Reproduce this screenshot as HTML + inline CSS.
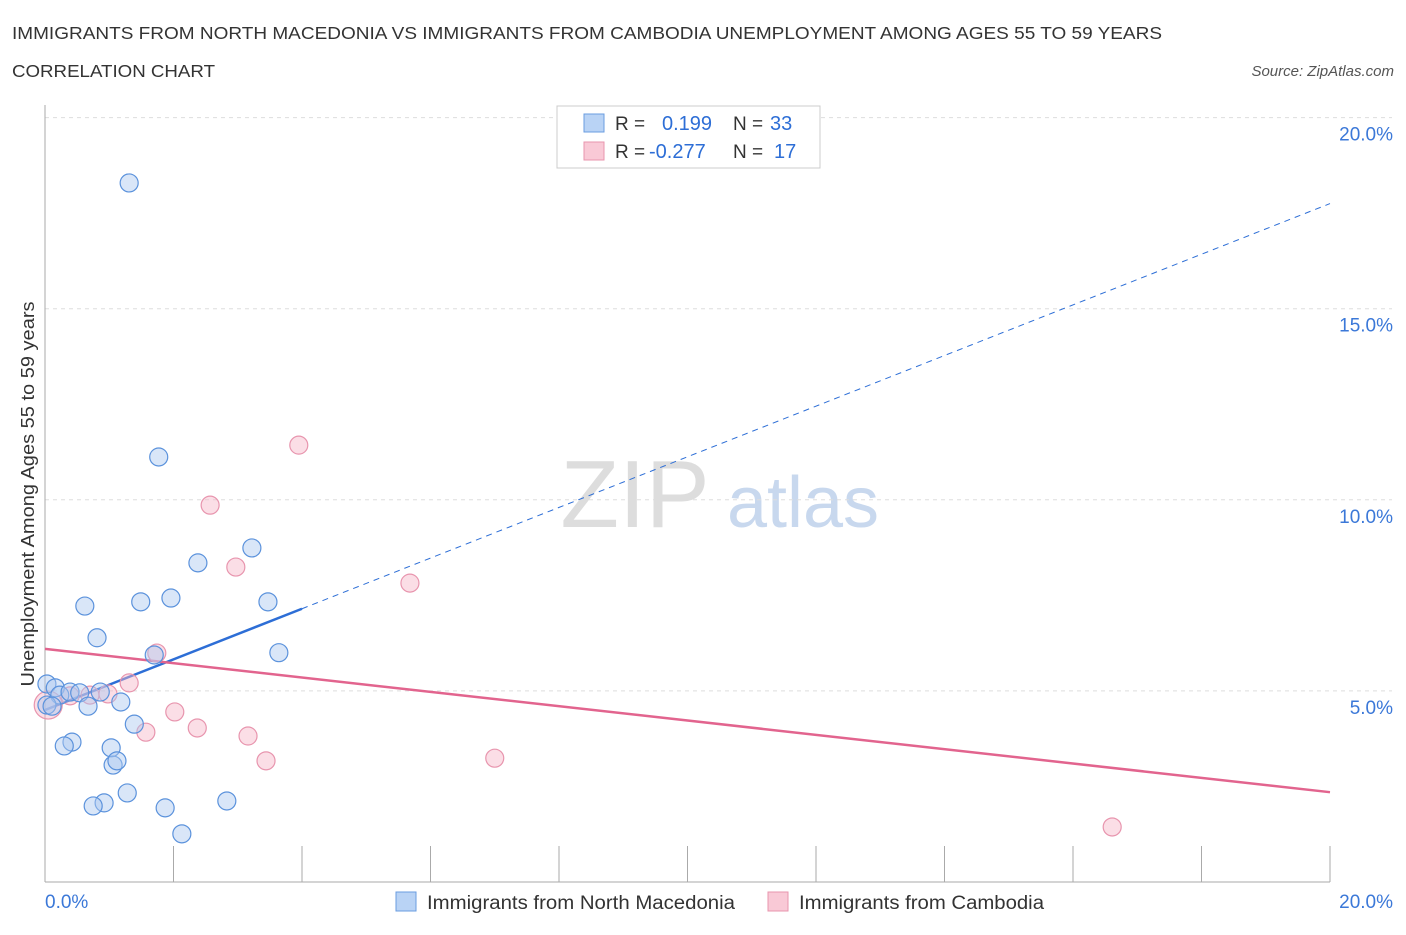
<!DOCTYPE html>
<html><head><meta charset="utf-8"><style>
body{margin:0;background:#fff;font-family:"Liberation Sans",sans-serif;}
svg text{font-family:"Liberation Sans",sans-serif;}
</style></head><body>
<svg id="chart" width="1406" height="930" xmlns="http://www.w3.org/2000/svg">
<text x="12" y="39" font-size="17.5" fill="#333" textLength="1150" lengthAdjust="spacingAndGlyphs">IMMIGRANTS FROM NORTH MACEDONIA VS IMMIGRANTS FROM CAMBODIA UNEMPLOYMENT AMONG AGES 55 TO 59 YEARS</text>
<text x="12" y="77" font-size="17.5" fill="#333" textLength="203" lengthAdjust="spacingAndGlyphs">CORRELATION CHART</text>
<text x="1394" y="76" font-size="15" fill="#555" font-style="italic" text-anchor="end">Source: ZipAtlas.com</text>
<text x="635" y="527" font-size="96" fill="#ddd" font-family="Liberation Serif" text-anchor="middle">ZIP</text>
<text x="803" y="527" font-size="72" fill="#c8d8ee" text-anchor="middle">atlas</text>
<g id="grid"></g><g id="axes"></g><g id="trends"></g><g id="pts"></g>
<text transform="translate(34,494) rotate(-90)" font-size="18" fill="#333" text-anchor="middle" textLength="385" lengthAdjust="spacingAndGlyphs">Unemployment Among Ages 55 to 59 years</text>
<g>
<rect x="557" y="106" width="263" height="62" fill="#fff" stroke="#ccc"/>
<rect x="584" y="114" width="20" height="18" fill="#b9d3f5" stroke="#6a9de0"/>
<rect x="584" y="142" width="20" height="18" fill="#f9c9d6" stroke="#e895ae"/>
<text x="615" y="130" font-size="19" fill="#333">R = </text><text x="662" y="130" font-size="20" fill="#2d6ed6">0.199</text>
<text x="733" y="130" font-size="19" fill="#333">N = </text><text x="770" y="130" font-size="20" fill="#2d6ed6">33</text>
<text x="615" y="158" font-size="19" fill="#333">R = </text><text x="649" y="158" font-size="20" fill="#2d6ed6">-0.277</text>
<text x="733" y="158" font-size="19" fill="#333">N = </text><text x="774" y="158" font-size="20" fill="#2d6ed6">17</text>
</g>
<g>
<rect x="396" y="892" width="20" height="19" fill="#b9d3f5" stroke="#6a9de0"/>
<text x="427" y="909" font-size="19" fill="#333" textLength="308" lengthAdjust="spacingAndGlyphs">Immigrants from North Macedonia</text>
<rect x="768" y="892" width="20" height="19" fill="#f9c9d6" stroke="#e895ae"/>
<text x="799" y="909" font-size="19" fill="#333" textLength="245" lengthAdjust="spacingAndGlyphs">Immigrants from Cambodia</text>
</g>
</svg>
<script>
const blueX=[1.31,1.77,3.22,2.38,0.62,1.49,1.96,3.47,0.81,3.64,1.70,0.03,0.16,0.23,0.39,0.54,0.86,0.03,0.67,1.18,1.39,1.03,0.42,0.30,1.06,1.12,1.28,0.92,0.75,1.87,2.83,2.13,0.11];
const blueY=[18.29,11.12,8.74,8.35,7.22,7.33,7.43,7.33,6.39,6.00,5.94,5.18,5.08,4.89,4.97,4.95,4.97,4.63,4.60,4.71,4.13,3.51,3.66,3.56,3.06,3.17,2.33,2.07,1.99,1.94,2.12,1.26,4.60];
const pinkX=[3.95,2.57,2.97,5.68,1.74,1.31,0.98,0.70,0.39,0.05,2.02,2.37,1.57,3.16,3.44,7.00,16.61];
const pinkY=[11.43,9.86,8.24,7.82,5.99,5.21,4.92,4.89,4.87,4.63,4.45,4.03,3.92,3.82,3.17,3.24,1.44];
const yTicks=[5,10,15,20];
const yTickLabels=["5.0%","10.0%","15.0%","20.0%"];
const blueTrend=[4.5,17.75];
const pinkTrend=[6.1,2.35];
const blueSolidEnd=4.0;
const NS="http://www.w3.org/2000/svg";
const X=v=>45+v*64.25, Y=v=>882-v*38.22;
function mk(p,t,a){const e=document.createElementNS(NS,t);for(const k in a)e.setAttribute(k,a[k]);document.getElementById(p).appendChild(e);return e;}
yTicks.forEach((t,i)=>{
 const g=mk('grid','line',{x1:45,x2:1392,y1:Y(t),y2:Y(t),stroke:'#ddd','stroke-dasharray':'4,4'});
 
 
 const tx=mk('grid','text',{x:1393,y:Y(t)+23,'font-size':19,fill:'#3b78d8','text-anchor':'end'});
 tx.textContent=yTickLabels[i];
 
 
});
const ax=mk('axes','line',{x1:45,x2:45,y1:105,y2:882,stroke:'#aaa'});


const bx=mk('axes','line',{x1:45,x2:1330,y1:882,y2:882,stroke:'#aaa'});


for(let i=1;i<=10;i++){const t=mk('axes','line',{x1:X(i*2),x2:X(i*2),y1:846,y2:882,stroke:'#aaa'});
 
 }
const l0=mk('axes','text',{x:45,y:908,'font-size':19,fill:'#3b78d8'});l0.textContent='0.0%';


const l1=mk('axes','text',{x:1393,y:908,'font-size':19,fill:'#3b78d8','text-anchor':'end'});l1.textContent='20.0%';


const bAt=x=>blueTrend[0]+(blueTrend[1]-blueTrend[0])*x/20;
const bt1=mk('trends','line',{x1:X(0),y1:Y(bAt(0)),x2:X(blueSolidEnd),y2:Y(bAt(blueSolidEnd)),stroke:'#2d6ed6','stroke-width':2.5});


const bt2=mk('trends','line',{x1:X(blueSolidEnd),y1:Y(bAt(blueSolidEnd)),x2:X(20),y2:Y(bAt(20)),stroke:'#2d6ed6','stroke-width':1,'stroke-dasharray':'6,5'});


const pt=mk('trends','line',{x1:X(0),y1:Y(pinkTrend[0]),x2:X(20),y2:Y(pinkTrend[1]),stroke:'#e2648e','stroke-width':2.5});


pinkX.forEach((x,i)=>{const c=mk('pts','circle',{cx:X(x),cy:Y(pinkY[i]),r:i==9?14:9,fill:'rgba(246,182,200,0.45)',stroke:'#e895ae','stroke-width':1.2});
 
 });
blueX.forEach((x,i)=>{const c=mk('pts','circle',{cx:X(x),cy:Y(blueY[i]),r:9,fill:'rgba(170,200,240,0.45)',stroke:'#5b92dc','stroke-width':1.2});
 
 });
</script>
</body></html>
